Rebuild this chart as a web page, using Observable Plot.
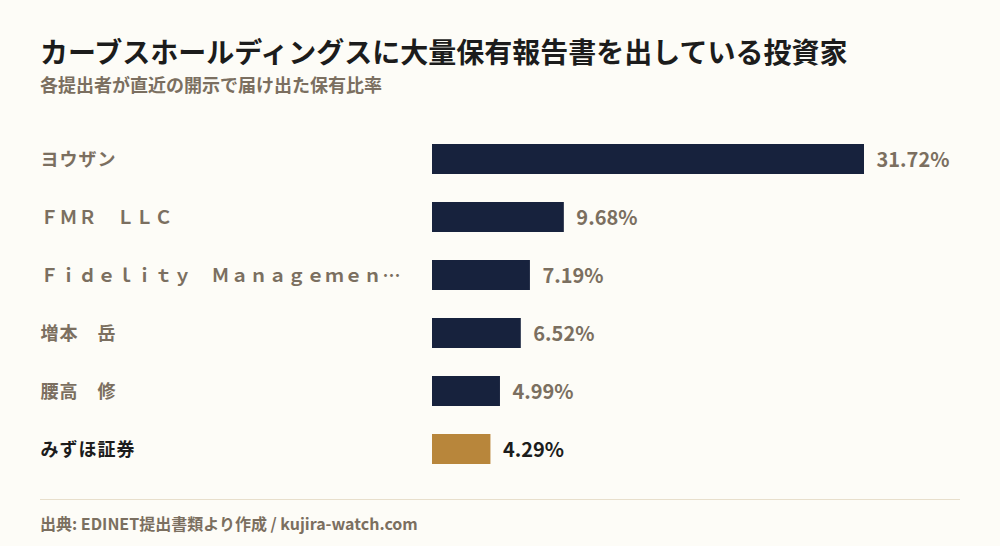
<!DOCTYPE html>
<html lang="ja">
<head>
<meta charset="utf-8">
<script src="https://cdn.jsdelivr.net/npm/d3@7"></script>
<script src="https://cdn.jsdelivr.net/npm/@observablehq/plot@0.6"></script>
<style>
  html, body { margin: 0; padding: 0; background: #fdfcf7; }
  body { width: 1000px; height: 546px; position: relative; overflow: hidden;
         font-family: "Noto Sans CJK JP", "Noto Sans", sans-serif; }
  #title { position: absolute; left: 40px; top: 31px; font-size: 28px; font-weight: 700;
           color: #1c1c1c; line-height: 40px; white-space: nowrap; }
  #subtitle { position: absolute; left: 40px; top: 72px; font-size: 18px; font-weight: 700;
              color: #7b6f60; line-height: 24px; white-space: nowrap; }
  #chart { position: absolute; left: 0; top: 130px; }
  #rule { position: absolute; left: 40px; width: 920px; top: 499px; height: 0;
          border-top: 1.5px solid #e8dfcc; }
  #caption { position: absolute; left: 40px; top: 511px; font-size: 16px; font-weight: 700;
             color: #7b6f60; line-height: 24px; white-space: nowrap; }
</style>
</head>
<body>
<div id="title">カーブスホールディングスに大量保有報告書を出している投資家</div>
<div id="subtitle">各提出者が直近の開示で届け出た保有比率</div>
<div id="chart"></div>
<div id="rule"></div>
<div id="caption">出典: EDINET提出書類より作成 / kujira-watch.com</div>
<script>
const holders = ["ヨウザン", "ＦＭＲ　ＬＬＣ", "Ｆｉｄｅｌｉｔｙ　Ｍａｎａｇｅｍｅｎ…", "増本　岳", "腰高　修", "みずほ証券"];
const ratios = [31.72, 9.68, 7.19, 6.52, 4.99, 4.29];
const highlight = ["みずほ証券"];

const data = holders.map((name, i) => ({name, value: ratios[i], hl: highlight.includes(name)}));

const chart = Plot.plot({
  width: 1000,
  height: 348,
  marginTop: 0,
  marginBottom: 0,
  marginLeft: 432,
  marginRight: 136,
  style: {background: "transparent", fontFamily: "'Noto Sans CJK JP', sans-serif"},
  x: {domain: [0, 31.72], axis: null},
  y: {domain: holders, axis: null, paddingInner: 0.483, paddingOuter: 0.2415},
  marks: [
    Plot.barX(data, {x: "value", y: "name", fill: d => d.hl ? "#b8863b" : "#17223d"}),
    Plot.text(data, {
      y: "name", frameAnchor: "left", dx: -392, dy: 1, textAnchor: "start",
      text: "name", fontSize: 18, fontWeight: 700,
      fill: d => d.hl ? "#1c1c1c" : "#7b6f60"
    }),
    Plot.text(data, {
      x: "value", y: "name", dx: 12, dy: 1, textAnchor: "start",
      text: d => d.value.toFixed(2) + "%", fontSize: 20, fontWeight: 700,
      fill: d => d.hl ? "#1c1c1c" : "#7b6f60"
    })
  ]
});
d3.select(chart).selectAll('g[aria-label="text"]')
  .filter((d, i) => i === 0)
  .selectAll("text")
  .style("letter-spacing", "1px");
document.getElementById("chart").appendChild(chart);
</script>
</body>
</html>
